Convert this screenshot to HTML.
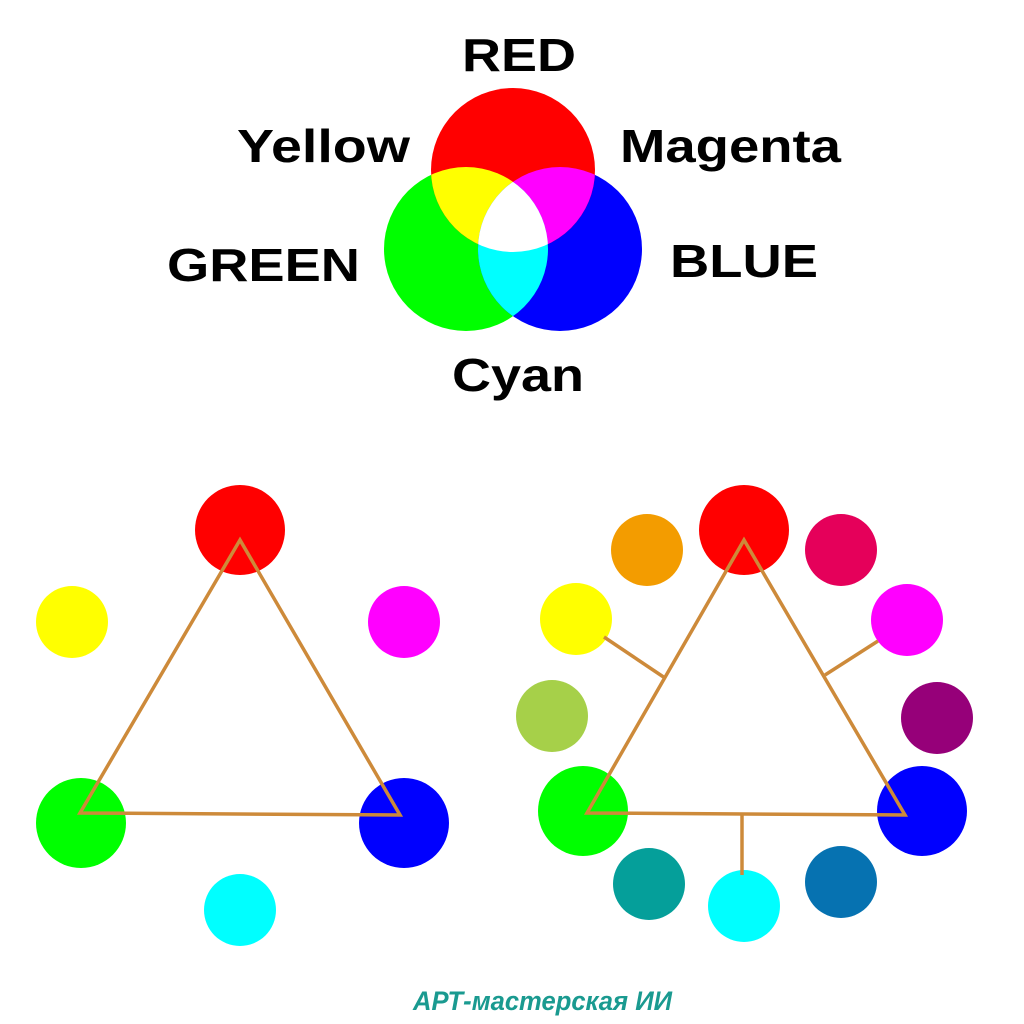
<!DOCTYPE html>
<html><head><meta charset="utf-8"><style>
html,body{margin:0;padding:0;background:#fff;}
svg{display:block;}
</style></head><body>
<svg width="1024" height="1024" viewBox="0 0 1024 1024" xmlns="http://www.w3.org/2000/svg">
<defs>
<clipPath id="cr"><circle cx="513" cy="170" r="82"/></clipPath>
<clipPath id="cg"><circle cx="466" cy="249" r="82"/></clipPath>
<clipPath id="cb"><circle cx="560" cy="249" r="82"/></clipPath>
</defs>
<rect width="1024" height="1024" fill="#fff"/>
<circle cx="466" cy="249" r="82" fill="#00ff00"/>
<circle cx="560" cy="249" r="82" fill="#0000ff"/>
<circle cx="513" cy="170" r="82" fill="#ff0000"/>
<g clip-path="url(#cr)"><circle cx="466" cy="249" r="82" fill="#ffff00"/><circle cx="560" cy="249" r="82" fill="#ff00ff"/></g>
<g clip-path="url(#cg)"><circle cx="560" cy="249" r="82" fill="#00ffff"/></g>
<g clip-path="url(#cr)"><g clip-path="url(#cg)"><circle cx="560" cy="249" r="82" fill="#ffffff"/></g></g>
<g font-family="Liberation Sans, sans-serif" font-weight="bold" font-size="46" fill="#000" lengthAdjust="spacingAndGlyphs">
<text x="462" y="71" textLength="114" lengthAdjust="spacingAndGlyphs">RED</text>
<text x="237" y="162" textLength="173" lengthAdjust="spacingAndGlyphs">Yellow</text>
<text x="620" y="162" textLength="221" lengthAdjust="spacingAndGlyphs">Magenta</text>
<text x="167" y="281" textLength="193" lengthAdjust="spacingAndGlyphs">GREEN</text>
<text x="670" y="277" textLength="148" lengthAdjust="spacingAndGlyphs">BLUE</text>
<text x="452" y="391" textLength="132" lengthAdjust="spacingAndGlyphs">Cyan</text>
</g>
<!-- left -->
<circle cx="240" cy="530" r="45" fill="#ff0000"/>
<circle cx="72" cy="622" r="36" fill="#ffff00"/>
<circle cx="404" cy="622" r="36" fill="#ff00ff"/>
<circle cx="81" cy="823" r="45" fill="#00ff00"/>
<circle cx="404" cy="823" r="45" fill="#0000ff"/>
<circle cx="240" cy="910" r="36" fill="#00ffff"/>
<polygon points="240,540 80,813 400,815" fill="none" stroke="#cd8a3a" stroke-width="3.5"/>
<!-- right -->
<circle cx="744" cy="530" r="45" fill="#ff0000"/>
<circle cx="647" cy="550" r="36" fill="#f39c00"/>
<circle cx="841" cy="550" r="36" fill="#e5005a"/>
<circle cx="576" cy="619" r="36" fill="#ffff00"/>
<circle cx="907" cy="620" r="36" fill="#ff00ff"/>
<circle cx="552" cy="716" r="36" fill="#a6d049"/>
<circle cx="937" cy="718" r="36" fill="#960079"/>
<circle cx="583" cy="811" r="45" fill="#00ff00"/>
<circle cx="922" cy="811" r="45" fill="#0000ff"/>
<circle cx="649" cy="884" r="36" fill="#059f9a"/>
<circle cx="744" cy="906" r="36" fill="#00ffff"/>
<circle cx="841" cy="882" r="36" fill="#0672b1"/>
<polygon points="744,540 587,813 905,815" fill="none" stroke="#cd8a3a" stroke-width="3.5"/>
<g stroke="#cd8a3a" stroke-width="3.5">
<line x1="604" y1="637" x2="665" y2="678"/>
<line x1="878" y1="641" x2="825" y2="675"/>
<line x1="742" y1="815" x2="742" y2="875"/>
</g>
<text x="413" y="1010" textLength="259" lengthAdjust="spacingAndGlyphs" font-family="Liberation Sans, DejaVu Sans, sans-serif" font-style="italic" font-weight="bold" font-size="27" fill="#1a9a90">АРТ-мастерская ИИ</text>
</svg>
</body></html>
